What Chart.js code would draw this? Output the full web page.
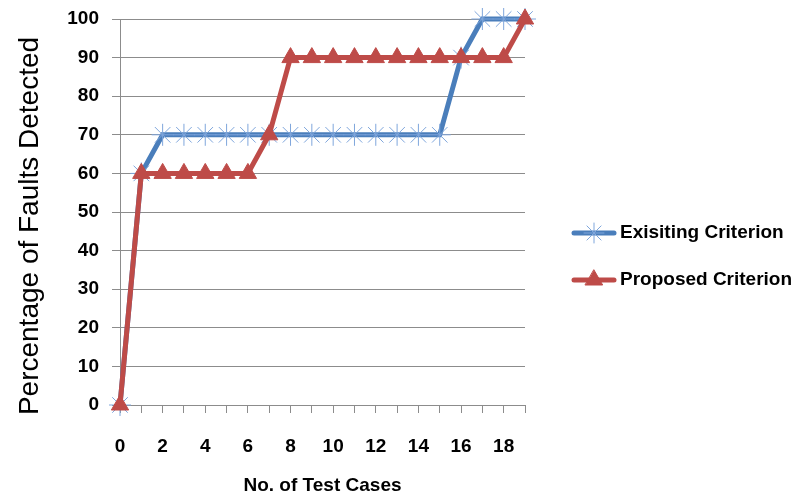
<!DOCTYPE html>
<html>
<head>
<meta charset="utf-8">
<script src="https://cdn.jsdelivr.net/npm/chart.js@4/dist/chart.umd.min.js"></script>
<style>
  html, body { margin: 0; padding: 0; background: #fff; }
  #wrap { width: 800px; height: 499px; position: relative; }
</style>
</head>
<body>
<div id="wrap"><canvas id="faultsChart"></canvas></div>
<script>
// datos
const testCases = [0, 1, 2, 3, 4, 5, 6, 7, 8, 9, 10, 11, 12, 13, 14, 15, 16, 17, 18, 19];
const existing = [0, 60, 70, 70, 70, 70, 70, 70, 70, 70, 70, 70, 70, 70, 70, 70, 90, 100, 100, 100];
const proposed = [0, 60, 60, 60, 60, 60, 60, 70, 90, 90, 90, 90, 90, 90, 90, 90, 90, 90, 90, 100];
const seriesNames = ["Exisiting Criterion", "Proposed Criterion"];
const yTicks = [0, 10, 20, 30, 40, 50, 60, 70, 80, 90, 100];
const yTitle = "Percentage of Faults Detected";

const FONT = "'Liberation Sans', sans-serif";
const BLUE = "#4a7ebb";
const BLUE_MARK = "#7fa6dc";
const RED = "#be4b48";
const GRID = "#8c8c8c";

// leyenda a la derecha (linea + marcador) y titulo del eje Y
const sideLegend = {
  id: "sideLegend",
  afterDraw(chart) {
    const ctx = chart.ctx;
    const rows = [
      { y: 233, color: BLUE, mark: BLUE_MARK, style: "star" },
      { y: 280, color: RED, mark: RED, style: "triangle" },
    ];
    rows.forEach((r, i) => {
      ctx.save();
      ctx.strokeStyle = r.color;
      ctx.lineWidth = 5;
      ctx.lineCap = "round";
      ctx.beginPath();
      ctx.moveTo(574, r.y);
      ctx.lineTo(614, r.y);
      ctx.stroke();
      ctx.fillStyle = r.mark;
      ctx.strokeStyle = r.mark;
      ctx.lineWidth = 1;
      Chart.helpers.drawPoint(ctx, { pointStyle: r.style, radius: 10, rotation: 0, borderWidth: 1 }, 594, r.y);
      ctx.fillStyle = "#000";
      ctx.font = "bold 19px " + FONT;
      ctx.textBaseline = "middle";
      ctx.textAlign = "left";
      ctx.fillText(seriesNames[i], 620, r.y);
      ctx.restore();
    });

    ctx.save();
    ctx.translate(30, 226);
    ctx.rotate(-Math.PI / 2);
    ctx.font = "28px " + FONT;
    ctx.fillStyle = "#000";
    ctx.textAlign = "center";
    ctx.textBaseline = "middle";
    ctx.fillText(yTitle, 0, 0);
    ctx.restore();
  },
};

new Chart(document.getElementById("faultsChart"), {
  type: "line",
  data: {
    labels: testCases,
    datasets: [
      {
        label: seriesNames[0],
        data: testCases.map((x, i) => ({ x: x, y: existing[i] })),
        borderColor: BLUE,
        borderWidth: 5,
        pointStyle: "star",
        pointRadius: 11,
        pointBorderColor: BLUE_MARK,
        pointBackgroundColor: BLUE_MARK,
        pointBorderWidth: 1,
        tension: 0,
        clip: false,
        order: 2,
      },
      {
        label: seriesNames[1],
        data: testCases.map((x, i) => ({ x: x, y: proposed[i] })),
        borderColor: RED,
        borderWidth: 5,
        pointStyle: "triangle",
        pointRadius: 10,
        pointBorderColor: RED,
        pointBackgroundColor: RED,
        pointBorderWidth: 1,
        tension: 0,
        clip: false,
        order: 1,
      },
    ],
  },
  options: {
    responsive: true,
    maintainAspectRatio: false,
    animation: false,
    layout: { padding: { left: 0, right: 275, top: 19, bottom: 0 } },
    plugins: {
      legend: { display: false },
      tooltip: { enabled: false },
    },
    scales: {
      x: {
        type: "linear",
        min: 0,
        max: 19,
        afterFit: (s) => { s.height = 94; s.paddingLeft = 0; s.paddingRight = 0; },
        afterBuildTicks: (s) => { s.ticks = testCases.map((v) => ({ value: v })); },
        grid: { display: true, drawOnChartArea: false, drawTicks: true, tickLength: 8, color: GRID },
        border: { color: GRID, width: 1 },
        ticks: {
          padding: 22,
          color: "#000",
          maxRotation: 0,
          autoSkip: false,
          font: { family: FONT, size: 19, weight: "bold" },
          callback: (v) => (v % 2 === 0 ? v : ""),
        },
        title: {
          display: true,
          text: "No. of Test Cases",
          color: "#000",
          font: { family: FONT, size: 19, weight: "bold" },
          padding: { top: 0, bottom: 2 },
        },
      },
      y: {
        min: 0,
        max: 100,
        afterFit: (s) => { s.width = 120; s.paddingTop = 0; s.paddingBottom = 0; },
        afterBuildTicks: (s) => { s.ticks = yTicks.map((v) => ({ value: v })); },
        grid: { color: GRID, tickLength: 8, drawTicks: true },
        border: { color: GRID, width: 1 },
        ticks: {
          padding: 13,
          color: "#000",
          font: { family: FONT, size: 19, weight: "bold" },
        },
      },
    },
  },
  plugins: [sideLegend],
});
</script>
</body>
</html>
